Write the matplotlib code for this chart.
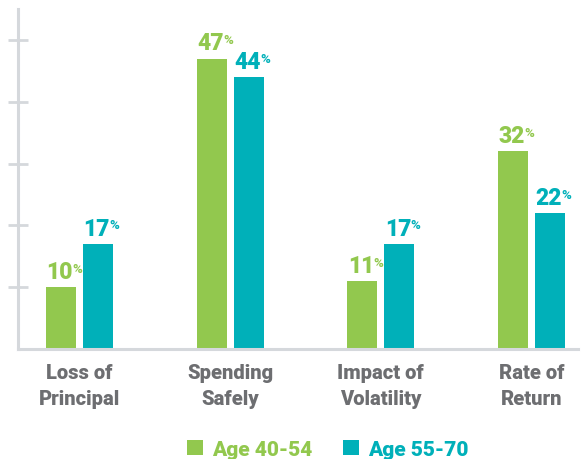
import numpy as np
import matplotlib.pyplot as plt

categories = ['Loss of\nPrincipal', 'Spending\nSafely', 'Impact of\nVolatility', 'Rate of\nReturn']
series_names = ['Age 40-54', 'Age 55-70']
age_40_54 = [10, 47, 11, 32]
age_55_70 = [17, 44, 17, 22]

green = '#92c84e'
teal = '#00b0b9'
axis_gray = '#d5d8dc'
label_gray = '#6d6e71'

plt.rcParams['font.family'] = ['Roboto', 'DejaVu Sans']

fig = plt.figure(figsize=(5.81, 4.6), dpi=100)
ax = fig.add_axes([0.031, 0.239, 0.964, 0.739])

x = np.arange(len(categories))
w = 0.2
off = 0.123
b1 = ax.bar(x - off, age_40_54, w, color=green, label=series_names[0])
b2 = ax.bar(x + off, age_55_70, w, color=teal, label=series_names[1])

# big number with a small % tucked at its top right
for bars, vals, c in [(b1, age_40_54, green), (b2, age_55_70, teal)]:
    for bar, v in zip(bars, vals):
        cx = bar.get_x() + bar.get_width() / 2
        num = ax.annotate(str(v), (cx, v), xytext=(-1, 3), textcoords='offset points',
                          ha='center', va='bottom', fontsize=16.5, fontweight='heavy', color=c)
        ax.annotate('%', xy=(1, 1), xycoords=num, xytext=(-0.3, -1.2), textcoords='offset points',
                    ha='left', va='top', fontsize=9.5, fontweight='bold', color=c)

ax.set_xlim(-0.41, 3.31)
ax.set_ylim(0, 55)
ax.set_yticks([10, 20, 30, 40, 50])
ax.set_yticklabels([])
ax.set_xticks(x)
ax.set_xticklabels(categories, fontsize=14.5, fontweight='heavy', color=label_gray, linespacing=1.5)
ax.tick_params(axis='x', length=0, pad=10)
ax.tick_params(axis='y', direction='inout', length=15, width=2, color=axis_gray)

for s in ['top', 'right']:
    ax.spines[s].set_visible(False)
for s in ['left', 'bottom']:
    ax.spines[s].set_color(axis_gray)
    ax.spines[s].set_linewidth(2.2)

leg = fig.legend(loc='lower center', bbox_to_anchor=(0.564, -0.04), ncol=2, frameon=False,
                 prop={'size': 15, 'weight': 'heavy'}, handlelength=0.75, handleheight=0.75,
                 handletextpad=0.43, columnspacing=1.5)
for t, c in zip(leg.get_texts(), [green, teal]):
    t.set_color(c)

fig.savefig('out.png', dpi=100)
